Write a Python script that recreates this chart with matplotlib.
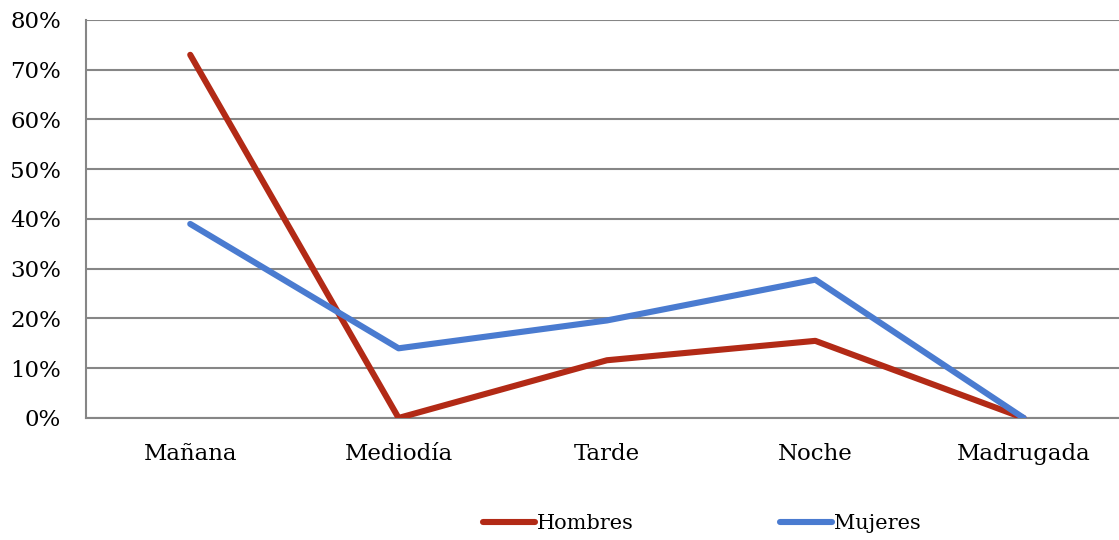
import matplotlib.pyplot as plt
from matplotlib.ticker import PercentFormatter

categories = ["Mañana", "Mediodía", "Tarde", "Noche", "Madrugada"]
hombres = [73.0, 0.0, 11.6, 15.5, 0.0]
mujeres = [39.0, 14.0, 19.6, 27.8, 0.0]

plt.rcParams["font.family"] = ["DejaVu Serif"]

fig = plt.figure(figsize=(11.19, 5.40), dpi=100)
ax = fig.add_axes([0.0769, 0.226, 0.931, 0.737])

x = range(len(categories))

ax.plot(x, hombres, color="#B22A16", linewidth=4.4, label="Hombres",
        solid_capstyle="round", solid_joinstyle="round", zorder=3)
ax.plot(x, mujeres, color="#4A7BD0", linewidth=4.4, label="Mujeres",
        solid_capstyle="round", solid_joinstyle="round", zorder=3)

ax.set_xlim(-0.5, 4.5)
ax.set_ylim(0, 80)
ax.set_yticks(range(0, 81, 10))
ax.yaxis.set_major_formatter(PercentFormatter(decimals=0))
ax.set_xticks(list(x))
ax.set_xticklabels(categories)

ax.grid(axis="y", color="#868686", linewidth=1.5)
ax.set_axisbelow(True)
ax.tick_params(axis="both", length=0, labelsize=16.5)
ax.tick_params(axis="x", pad=18)
ax.tick_params(axis="y", pad=18)

for side in ["top", "right"]:
    ax.spines[side].set_visible(False)
for side in ["left", "bottom"]:
    ax.spines[side].set_color("#868686")
    ax.spines[side].set_linewidth(1.5)

fig.legend(
    loc="center",
    bbox_to_anchor=(0.627, 0.030),
    ncol=2,
    frameon=False,
    fontsize=15,
    handlelength=2.5,
    handletextpad=0.1,
    columnspacing=7,
)

fig.savefig("out.png", dpi=100)
